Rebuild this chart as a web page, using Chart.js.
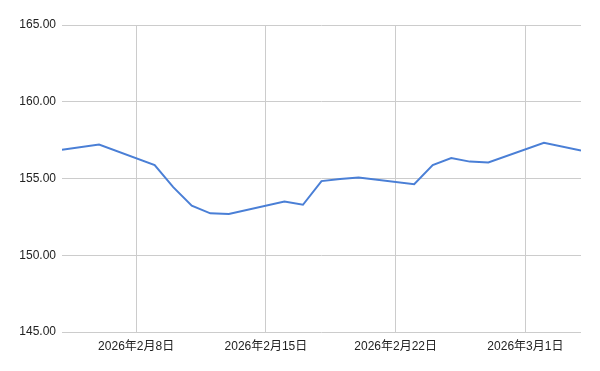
<!DOCTYPE html>
<html>
<head>
<meta charset="utf-8">
<script src="https://cdn.jsdelivr.net/npm/chart.js@4"></script>
<style>
  html, body { margin: 0; padding: 0; background: #fff; }
  #wrap { width: 600px; height: 371px; }
</style>
</head>
<body>
<div id="wrap"><canvas id="rate-chart" width="600" height="371"></canvas></div>
<script>
// dates with a value (weekends skipped, line joins across them)
const dates = [
  "2026-02-04", "2026-02-06", "2026-02-09", "2026-02-10", "2026-02-11",
  "2026-02-12", "2026-02-13", "2026-02-16", "2026-02-17", "2026-02-18",
  "2026-02-19", "2026-02-20", "2026-02-23", "2026-02-24", "2026-02-25",
  "2026-02-26", "2026-02-27", "2026-03-02", "2026-03-04",
];
const values = [
  156.87, 157.21, 155.87, 154.44, 153.23,
  152.73, 152.69, 153.5, 153.29, 154.83,
  154.97, 155.06, 154.63, 155.87, 156.33,
  156.1, 156.04, 157.33, 156.82,
];
const axisStart = "2026-02-04";
const axisEnd = "2026-03-04";
const tickDates = ["2026-02-08", "2026-02-15", "2026-02-22", "2026-03-01"];
const yTicks = [145, 150, 155, 160, 165];

const DAY = 24 * 60 * 60 * 1000;
const dayIndex = (s) => Math.round((Date.parse(s + "T00:00:00Z") - Date.parse(axisStart + "T00:00:00Z")) / DAY);

const fmtDate = (idx) => {
  const d = new Date(Date.parse(axisStart + "T00:00:00Z") + idx * DAY);
  return d.getUTCFullYear() + "年" + (d.getUTCMonth() + 1) + "月" + d.getUTCDate() + "日";
};

const points = dates.map((d, i) => ({ x: dayIndex(d), y: values[i] }));

const chartConfig = {
  type: "line",
  data: {
    datasets: [
      {
        label: "rate",
        data: points,
        borderColor: "#4a7fd6",
        borderWidth: 2,
        pointRadius: 0,
        tension: 0,
        fill: false,
      },
    ],
  },
  options: {
    responsive: false,
    animation: false,
    layout: { padding: { top: 25, right: 19, bottom: 0, left: 0 } },
    plugins: { legend: { display: false }, tooltip: { enabled: false } },
    scales: {
      x: {
        type: "linear",
        min: dayIndex(axisStart),
        max: dayIndex(axisEnd),
        afterBuildTicks: (scale) => {
          scale.ticks = tickDates.map((d) => ({ value: dayIndex(d) }));
        },
        afterFit: (scale) => {
          scale.height = 39;
        },
        border: { display: false },
        grid: { color: "#cccccc", drawTicks: false, lineWidth: 1 },
        ticks: {
          padding: 7,
          maxRotation: 0,
          autoSkip: false,
          color: "#222",
          font: { family: "'Liberation Sans', 'Noto Sans CJK JP', sans-serif", size: 12 },
          callback: (v) => fmtDate(v),
        },
      },
      y: {
        min: yTicks[0],
        max: yTicks[yTicks.length - 1],
        afterBuildTicks: (scale) => {
          scale.ticks = yTicks.map((v) => ({ value: v }));
        },
        afterFit: (scale) => {
          scale.width = 62;
        },
        border: { display: false },
        grid: { color: "#cccccc", drawTicks: false, lineWidth: 1 },
        ticks: {
          padding: 6,
          color: "#222",
          font: { family: "'Liberation Sans', Arial, sans-serif", size: 12 },
          callback: (v) => Number(v).toFixed(2),
        },
      },
    },
  },
};

new Chart(document.getElementById("rate-chart"), chartConfig);
</script>
</body>
</html>
